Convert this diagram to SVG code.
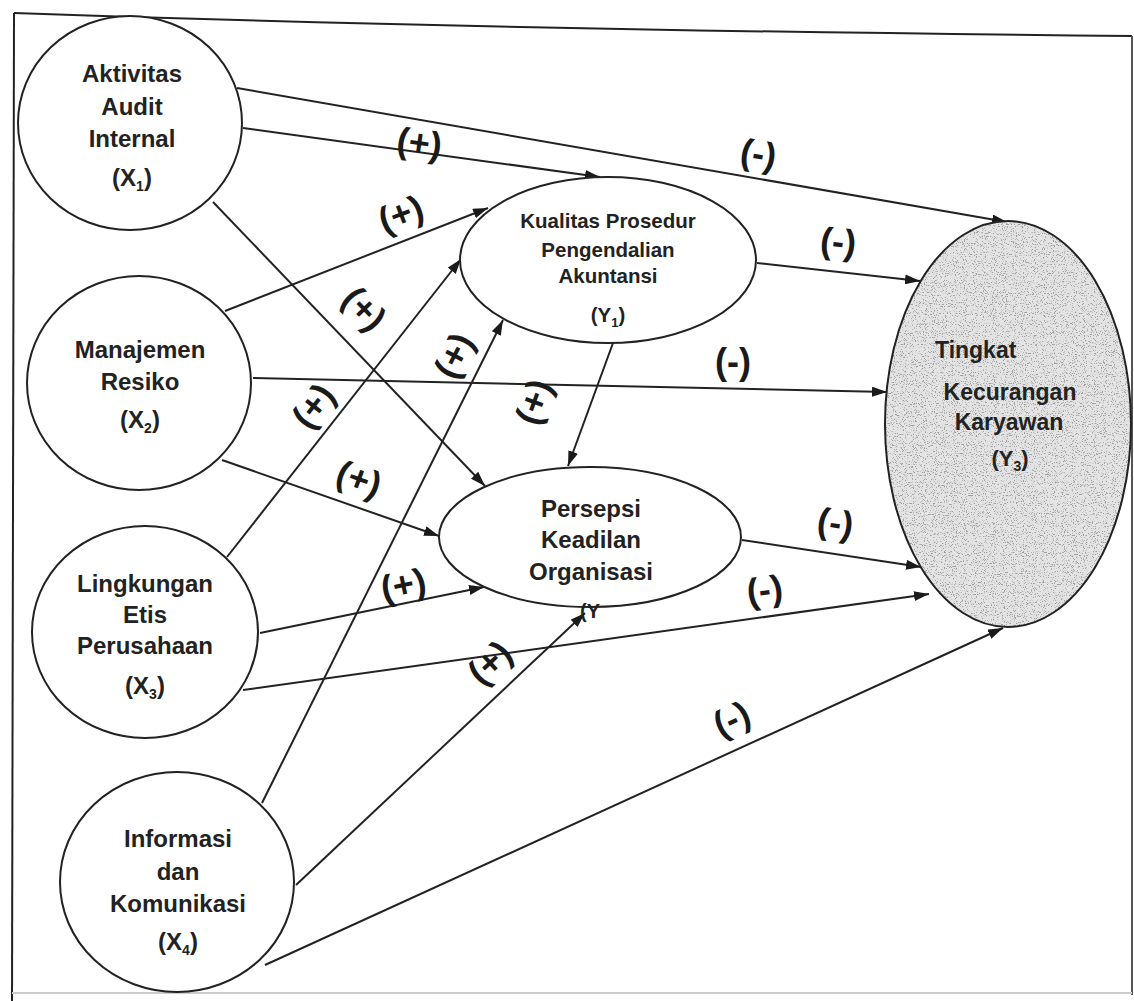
<svg xmlns="http://www.w3.org/2000/svg" width="1134" height="1001" viewBox="0 0 1134 1001">
<style>
.node{fill:#fff;stroke:#222;stroke-width:2}
.t{font-family:"Liberation Sans",Arial,sans-serif;font-weight:bold;fill:#222;text-anchor:middle}
.tx{font-size:24px}
.ty{font-size:20.5px}
.lbl{font-family:"Liberation Sans",Arial,sans-serif;font-weight:bold;font-size:36px;fill:#1a1a1a;text-anchor:middle}
.c{stroke:#222;stroke-width:2;fill:none;marker-end:url(#ah)}
</style>
<defs>
<marker id="ah" markerUnits="userSpaceOnUse" markerWidth="15" markerHeight="10" refX="15" refY="5" orient="auto">
<path d="M0,0 L15,5 L0,10 z" fill="#1a1a1a"/>
</marker>
<filter id="speckle" x="0" y="0" width="100%" height="100%">
<feTurbulence type="fractalNoise" baseFrequency="0.9" numOctaves="2" seed="7" result="n"/>
<feColorMatrix in="n" type="matrix" values="0 0 0 0 0.35  0 0 0 0 0.35  0 0 0 0 0.35  -7 0 0 0 3.15" result="dots"/>
<feComposite in="dots" in2="SourceGraphic" operator="in" result="d"/>
<feMerge><feMergeNode in="SourceGraphic"/><feMergeNode in="d"/></feMerge>
</filter>
</defs>
<rect width="1134" height="1001" fill="#fff"/>
<g id="frame" fill="none">
<path d="M14,13 Q500,30 1132,36" stroke="#222" stroke-width="2"/>
<path d="M14,13 L12,1001" stroke="#222" stroke-width="2"/>
<path d="M1132,36 L1132,995" stroke="#555" stroke-width="2"/>
<path d="M12,993 L1132,993" stroke="#ccc" stroke-width="2"/>
</g>
<g id="connectors">
<path class="c" d="M237,88 L1007,222"/>
<path class="c" d="M243,128 L600,177"/>
<path class="c" d="M213,202 L485,486"/>
<path class="c" d="M225,311 L488,208"/>
<path class="c" d="M253,378 L887,392"/>
<path class="c" d="M222,460 L439,536"/>
<path class="c" d="M227,557 L461,259"/>
<path class="c" d="M260,633 L484,587"/>
<path class="c" d="M243,690 L929,594"/>
<path class="c" d="M262,803 L503,320"/>
<path class="c" d="M296,885 L585,613"/>
<path class="c" d="M265,965 L1003,628"/>
<path class="c" d="M613,343 L568,466"/>
<path class="c" d="M757,263 L920,281"/>
<path class="c" d="M742,540 L921,567"/>
</g>
<g id="labels">
<text class="lbl" x="419" y="155" transform="rotate(8 419 146)">(+)</text>
<text class="lbl" x="758" y="166" transform="rotate(10 758 157)">(-)</text>
<text class="lbl" x="402" y="226" transform="rotate(-21 402 217)">(+)</text>
<text class="lbl" x="362" y="320" transform="rotate(46 362 311)">(+)</text>
<text class="lbl" x="457" y="366" transform="rotate(-63 457 357)">(+)</text>
<text class="lbl" x="316" y="417" transform="rotate(-52 316 408)">(+)</text>
<text class="lbl" x="537" y="412" transform="rotate(-70 537 403)">(+)</text>
<text class="lbl" x="358" y="491" transform="rotate(20 358 482)">(+)</text>
<text class="lbl" x="404" y="597" transform="rotate(-12 404 588)">(+)</text>
<text class="lbl" x="492" y="674" transform="rotate(-43 492 665)">(+)</text>
<text class="lbl" x="838" y="254" transform="rotate(6 838 245)">(-)</text>
<text class="lbl" x="733" y="374">(-)</text>
<text class="lbl" x="835" y="535" transform="rotate(9 835 526)">(-)</text>
<text class="lbl" x="765" y="602" transform="rotate(-8 765 593)">(-)</text>
<text class="lbl" x="733" y="731" transform="rotate(-25 733 722)">(-)</text>
</g>
<g id="X1">
<ellipse class="node" cx="130" cy="123" rx="112" ry="107"/>
<text class="t tx" x="132" y="82">Aktivitas</text>
<text class="t tx" x="132" y="115">Audit</text>
<text class="t tx" x="132" y="147">Internal</text>
<text class="t tx" x="132" y="186">(X<tspan font-size="14" dy="5">1</tspan><tspan dy="-5">)</tspan></text>
</g>
<g id="X2">
<ellipse class="node" cx="139" cy="383" rx="112" ry="107"/>
<text class="t tx" x="140" y="358">Manajemen</text>
<text class="t tx" x="140" y="390">Resiko</text>
<text class="t tx" x="140" y="428">(X<tspan font-size="14" dy="5">2</tspan><tspan dy="-5">)</tspan></text>
</g>
<g id="X3">
<ellipse class="node" cx="145" cy="632" rx="113" ry="106"/>
<text class="t tx" x="145" y="592">Lingkungan</text>
<text class="t tx" x="145" y="623">Etis</text>
<text class="t tx" x="145" y="654">Perusahaan</text>
<text class="t tx" x="145" y="694">(X<tspan font-size="14" dy="5">3</tspan><tspan dy="-5">)</tspan></text>
</g>
<g id="X4">
<ellipse class="node" cx="177" cy="882" rx="117" ry="110"/>
<text class="t tx" x="178" y="847">Informasi</text>
<text class="t tx" x="178" y="880">dan</text>
<text class="t tx" x="178" y="912">Komunikasi</text>
<text class="t tx" x="178" y="950">(X<tspan font-size="14" dy="5">4</tspan><tspan dy="-5">)</tspan></text>
</g>
<g id="Y1">
<ellipse class="node" cx="608" cy="260" rx="148" ry="83"/>
<text class="t ty" x="608" y="228">Kualitas Prosedur</text>
<text class="t ty" x="608" y="257">Pengendalian</text>
<text class="t ty" x="608" y="283">Akuntansi</text>
<text class="t ty" x="608" y="322">(Y<tspan font-size="13" dy="5">1</tspan><tspan dy="-5">)</tspan></text>
</g>
<g id="Y2">
<ellipse class="node" cx="590" cy="537" rx="151" ry="70"/>
<text class="t tx" x="591" y="517">Persepsi</text>
<text class="t tx" x="591" y="548">Keadilan</text>
<text class="t tx" x="591" y="580">Organisasi</text>
<text class="t" x="580" y="618" font-size="20" style="text-anchor:start">(Y</text>
</g>
<g id="Y3">
<ellipse cx="1008" cy="424" rx="123" ry="203" fill="#e4e4e4" filter="url(#speckle)"/>
<ellipse cx="1008" cy="424" rx="123" ry="203" fill="none" stroke="#222" stroke-width="2"/>
<text class="t" font-size="23" x="935" y="358" style="text-anchor:start">Tingkat</text>
<text class="t" font-size="23" x="1010" y="400">Kecurangan</text>
<text class="t" font-size="23" x="1009" y="430">Karyawan</text>
<text class="t" font-size="22" x="1010" y="466">(Y<tspan font-size="14" dy="5">3</tspan><tspan dy="-5">)</tspan></text>
</g>
</svg>
